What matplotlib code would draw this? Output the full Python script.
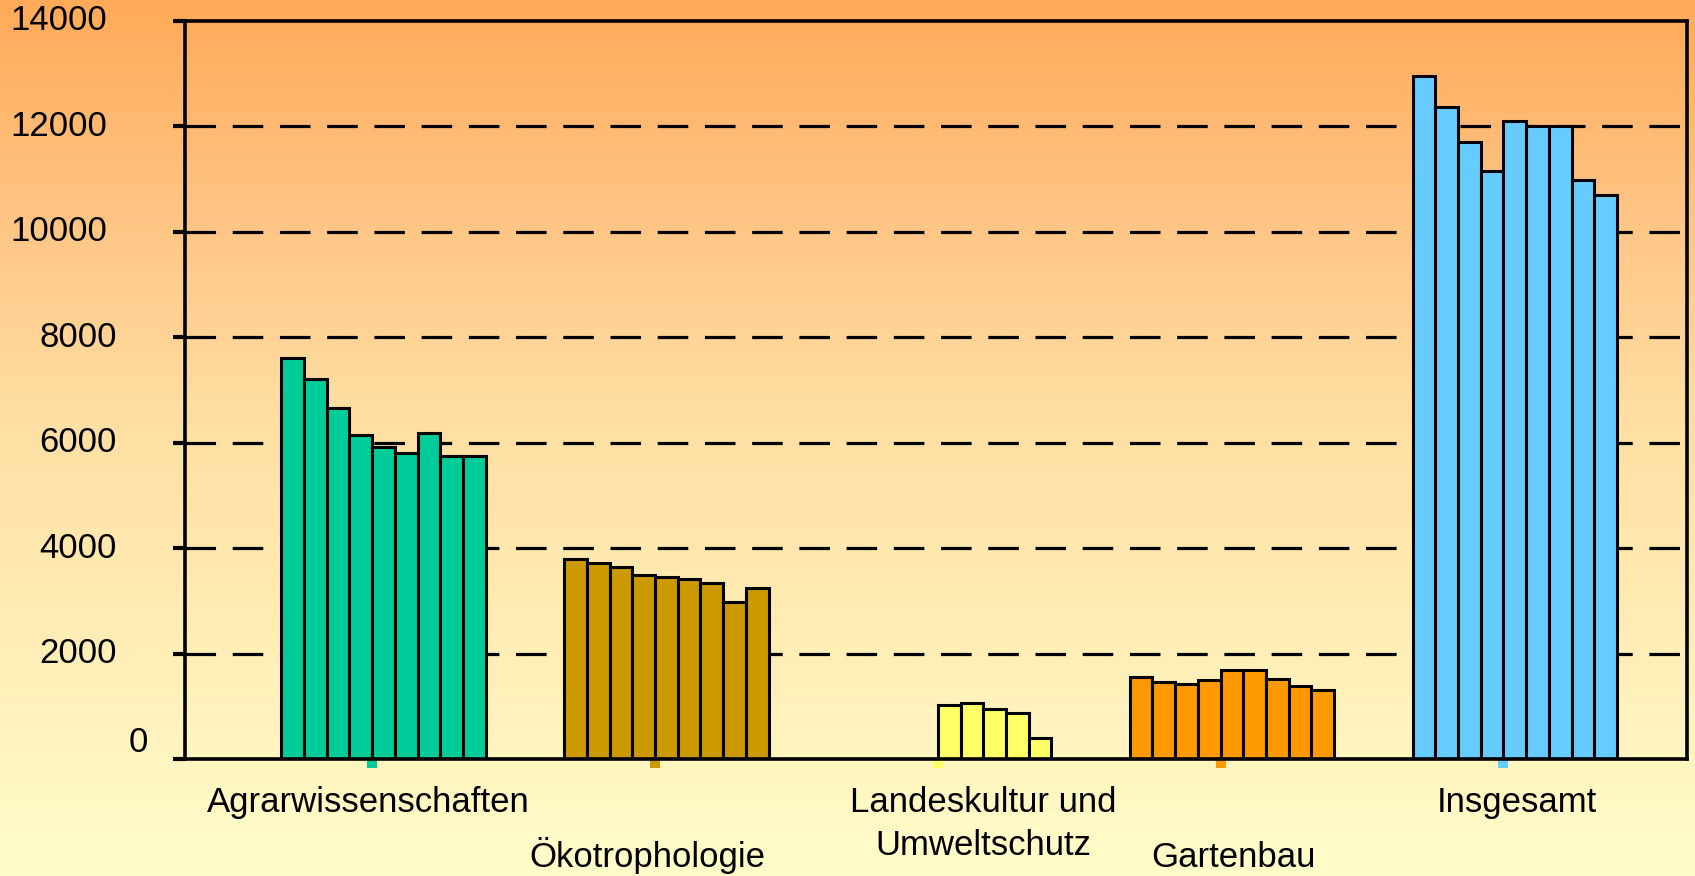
import numpy as np
import matplotlib
matplotlib.use("Agg")
import matplotlib.pyplot as plt
from matplotlib.colors import LinearSegmentedColormap

plt.rcParams['font.family'] = ['Liberation Sans', 'DejaVu Sans']
plt.rcParams['lines.scale_dashes'] = False

# Studierende je Fachrichtung, 9 Jahrgaenge
kategorien = ["Agrarwissenschaften", "Ökotrophologie", "Landeskultur und\nUmweltschutz",
              "Gartenbau", "Insgesamt"]
agrar = [7600, 7200, 6650, 6140, 5920, 5810, 6180, 5740, 5740]
oeko = [3790, 3710, 3640, 3485, 3460, 3410, 3340, 2985, 3245]
landeskultur = [0, 0, 0, 0, 1020, 1060, 950, 870, 400]
gartenbau = [1565, 1455, 1420, 1495, 1680, 1680, 1525, 1380, 1310]
insgesamt = [12950, 12360, 11710, 11160, 12110, 12000, 12000, 10990, 10690]
werte = [agrar, oeko, landeskultur, gartenbau, insgesamt]
farben = ["#00CC99", "#CC9900", "#FFFF66", "#FF9900", "#66CCFF"]
y_ticks = [0, 2000, 4000, 6000, 8000, 10000, 12000, 14000]

fig = plt.figure(figsize=(16.95, 8.76), dpi=100)

# Hintergrund mit Farbverlauf (oben orange, unten hellgelb)
bg = fig.add_axes([0, 0, 1, 1], zorder=-10)
verlauf = LinearSegmentedColormap.from_list(
    "bg", [(0.0, "#FFAA58"), (0.23, "#FFC382"), (0.48, "#FFDFA3"), (1.0, "#FFFDCA")])
bg.imshow(np.linspace(0, 1, 256).reshape(-1, 1), aspect="auto", cmap=verlauf,
          extent=[0, 1, 1, 0])
bg.set_xlim(0, 1)
bg.set_ylim(1, 0)
bg.axis("off")

ax = fig.add_axes([0.10914, 0.13356, 0.88614, 0.84247])
ax.set_facecolor("none")

w = 0.0803
for i, (vals, c) in enumerate(zip(werte, farben)):
    x = i + (np.arange(len(vals)) - 4) * w
    v = np.array(vals, dtype=float)
    m = v > 0
    ax.bar(x[m], v[m], width=w, color=c, edgecolor="black", linewidth=2.2, zorder=3)
    # kleine farbige Markierung unter der Achse
    ax.plot([i - 0.04], [-70], marker="s", ms=6.5, mew=0, color=c, clip_on=False, zorder=1)

ax.set_xlim(-0.702, 4.609)
ax.set_ylim(0, 14000)
ax.set_axisbelow(True)
for yv in y_ticks[1:-1]:
    ax.axhline(yv, color="black", lw=2.3, linestyle=(0, (22, 12)), zorder=1)

for s in ax.spines.values():
    s.set_linewidth(2.6)
    s.set_zorder(4)

ax.set_xticks([])
ax.set_yticks(y_ticks)
ax.set_yticklabels([])
ax.tick_params(axis="y", direction="out", length=8.5, width=3, color="black")

# Achsenbeschriftung Y
ytr = ax.get_yaxis_transform()
for yv in y_ticks:
    txt = str(yv)
    if yv == 0:
        ax.text((148 - 185) / 1502, yv + 320, txt, transform=ytr, ha="right",
                va="center", fontsize=25)
    elif len(txt) == 5:
        ax.text((107 - 185) / 1502, yv, txt, transform=ytr, ha="right",
                va="center", fontsize=25)
    else:
        ax.text((117 - 185) / 1502, yv, txt, transform=ytr, ha="right",
                va="center", fontsize=25)

# Kategoriebeschriftung (versetzt in zwei Reihen)
label_x = [-0.055, 0.932, 2.120, 3.004, 4.008]
label_y = [-0.0718, -0.146, -0.0718, -0.146, -0.0718]
xtr = ax.get_xaxis_transform()
for name, lx, ly in zip(kategorien, label_x, label_y):
    for k, zeile in enumerate(name.split("\n")):
        ax.text(lx, ly - k * 0.0583, zeile, transform=xtr, ha="center",
                va="baseline", fontsize=25)

fig.savefig("out.png", dpi=100)
